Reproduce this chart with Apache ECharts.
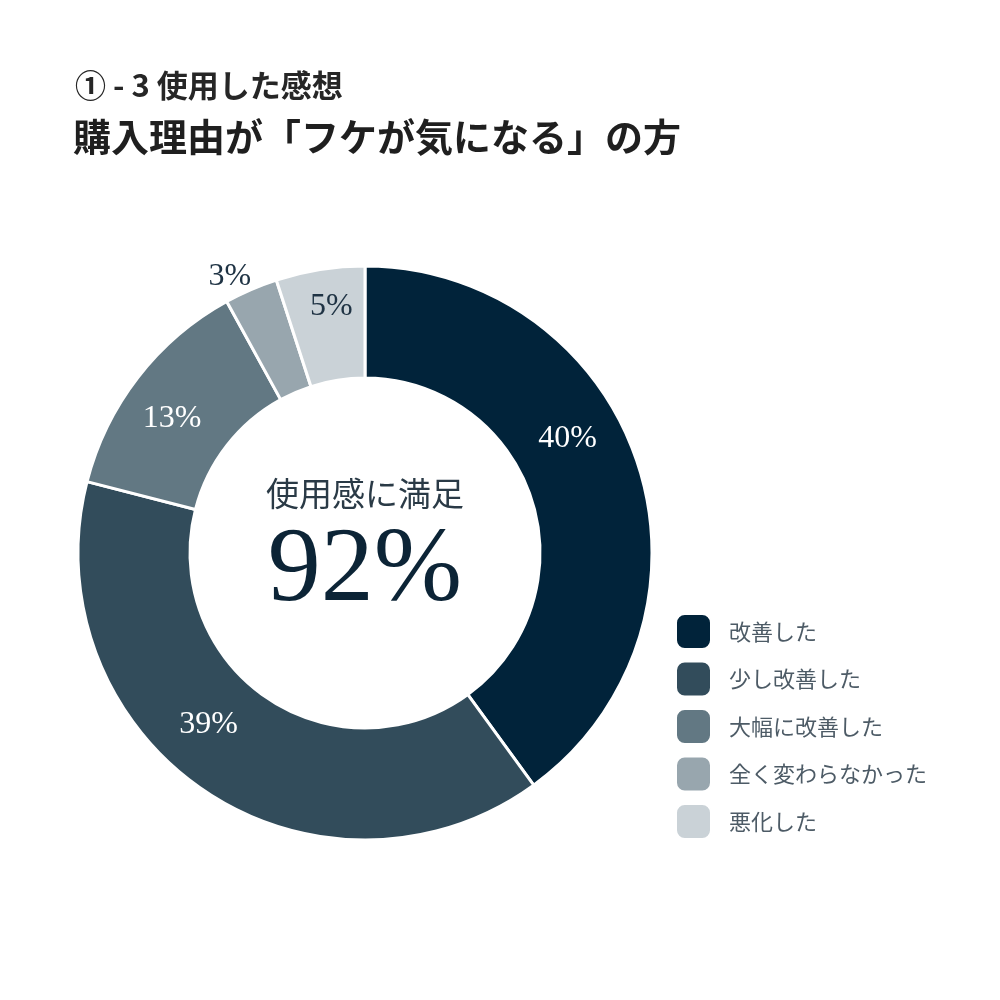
<!DOCTYPE html>
<html>
<head>
<meta charset="utf-8">
<script src="https://cdn.jsdelivr.net/npm/echarts@6/dist/echarts.min.js"></script>
<style>html,body{margin:0;padding:0;background:#fff}#c{width:1000px;height:1000px}</style>
</head>
<body>
<div id="c"></div>
<script>
var categories = ['改善した', '少し改善した', '大幅に改善した', '全く変わらなかった', '悪化した'];
var values = [40, 39, 13, 3, 5];
var colors = ['#01233a', '#324c5b', '#627883', '#98a6ae', '#cad2d7'];
var labelColors = ['#ffffff', '#ffffff', '#ffffff', '#1f3344', '#1f3344'];
var labelOffsets = [[-20, -42], [-25, -22], [-8, 9], [41, 1], [3, -15]];
var subTitle = '① - 3 使用した感想';
var mainTitle = '購入理由が「フケが気になる」の方';
var centerLabel = '使用感に満足';
var centerValue = '92%';

var serif = '"Liberation Serif", "DejaVu Serif", serif';
var cjk = '"Noto Sans CJK JP", "Noto Sans", sans-serif';

var data = categories.map(function (c, i) {
  var item = {
    name: c,
    value: values[i],
    itemStyle: { color: colors[i] },
    label: { color: labelColors[i], offset: labelOffsets[i] }
  };
  if (i === 3) {
    item.label.position = 'outside';
    item.label.distance = 4;
    item.labelLine = { show: false };
  }
  return item;
});

var chart = echarts.init(document.getElementById('c'));
chart.setOption({
  backgroundColor: '#fff',
  animation: false,
  graphic: [
    { type: 'text', left: 75, top: 70, style: { text: subTitle, font: 'bold 31px ' + cjk, fill: '#262626' } },
    { type: 'text', left: 73, top: 118, style: { text: mainTitle, font: 'bold 38px ' + cjk, fill: '#1f1f1f' } },
    { type: 'text', x: 365, y: 493, style: { text: centerLabel, font: '33px ' + cjk, fill: '#2a3a46', align: 'center', verticalAlign: 'middle' } },
    { type: 'text', x: 365, y: 572, style: { text: centerValue, font: '106px ' + serif, fill: '#0c2436', align: 'center', verticalAlign: 'middle' } }
  ],
  legend: {
    orient: 'vertical',
    left: 670,
    top: 608,
    itemWidth: 35,
    itemHeight: 35,
    itemGap: 10.5,
    icon: 'roundRect',
    data: categories,
    textStyle: { fontFamily: cjk, fontSize: 22, color: '#4d5b66', padding: [0, 0, 0, 13] },
    selectedMode: false
  },
  series: [{
    type: 'pie',
    center: [365, 553],
    radius: [175, 287],
    startAngle: 90,
    clockwise: true,
    avoidLabelOverlap: false,
    itemStyle: { borderColor: '#ffffff', borderWidth: 3 },
    label: {
      show: true,
      position: 'inside',
      formatter: '{c}%',
      fontFamily: serif,
      fontSize: 32
    },
    emphasis: { disabled: true },
    data: data
  }]
});
</script>
</body>
</html>
